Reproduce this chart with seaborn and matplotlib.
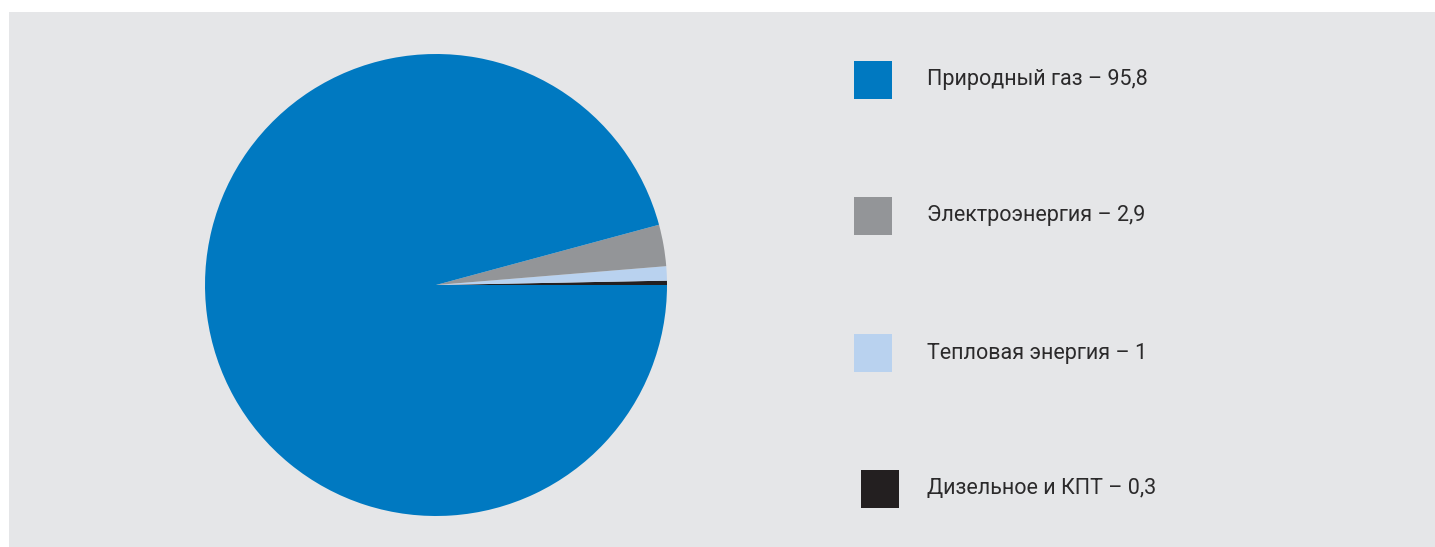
import matplotlib
matplotlib.use("Agg")
import matplotlib.pyplot as plt
from matplotlib.patches import Rectangle
import seaborn as sns

# Fuel shares, %
labels = ["Природный газ", "Электроэнергия", "Тепловая энергия", "Дизельное и КПТ"]
values = [95.8, 2.9, 1, 0.3]
value_text = ["95,8", "2,9", "1", "0,3"]
colors = ["#0079c1", "#939598", "#b9d2ef", "#231f20"]

sns.set_style("white")
plt.rcParams["font.family"] = ["Roboto", "DejaVu Sans"]

W, H = 1435, 547
fig = plt.figure(figsize=(W / 100, H / 100), dpi=100)
fig.patch.set_facecolor("white")

# grey panel behind everything
fig.patches.append(Rectangle((9 / W, 0), 1 - 9 / W, (H - 12) / H,
                             transform=fig.transFigure, facecolor="#e5e6e8",
                             edgecolor="none", zorder=-5))

# pie: drawn counter-clockwise from 3 o'clock, smallest slice first
ax = fig.add_axes([205 / W, (H - 516) / H, 462 / W, 462 / H])
ax.set_zorder(1)
ax.set_facecolor("none")
order = list(range(len(values)))[::-1]
ax.pie([values[i] for i in order], colors=[colors[i] for i in order],
       startangle=0, counterclock=True, radius=1,
       wedgeprops=dict(linewidth=0))
ax.set_xlim(-1, 1)
ax.set_ylim(-1, 1)
ax.set_aspect("equal")
ax.axis("off")

# legend
row_y = [80, 216, 353, 489]
for i, (lab, val, col) in enumerate(zip(labels, value_text, colors)):
    x0 = 854 + (7 if i == 3 else 0)
    y = row_y[i]
    fig.patches.append(Rectangle((x0 / W, (H - y - 19) / H), 38 / W, 38 / H,
                                 transform=fig.transFigure, facecolor=col,
                                 edgecolor="none", zorder=2))
    fig.text(927 / W, (H - y) / H, f"{lab} – {val}", ha="left", va="center",
             fontsize=15.5, color="#2b2a2b", fontstretch="condensed")

fig.savefig("out.png", dpi=100)
